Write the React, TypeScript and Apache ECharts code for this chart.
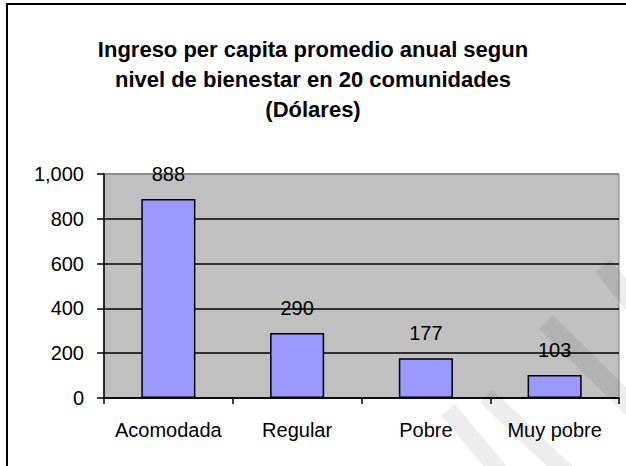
import React, { useEffect, useRef } from "react";
import * as echarts from "echarts";

const titleLines = [
  "Ingreso per capita promedio anual segun",
  "nivel de bienestar en 20 comunidades",
  "(Dólares)",
];
const categories = ["Acomodada", "Regular", "Pobre", "Muy pobre"];
const values = [888, 290, 177, 103];
const yMin = 0;
const yMax = 1000;
const yInterval = 200;

const FONT = "'Liberation Sans', Arial, sans-serif";

function formatThousands(v: number): string {
  return String(v).replace(/\B(?=(\d{3})+(?!\d))/g, ",");
}

export default function App() {
  const ref = useRef<HTMLDivElement>(null);
  useEffect(() => {
    if (!ref.current) return;
    const chart = echarts.init(ref.current, undefined, { renderer: "svg" });
    const stripe = (x1: number, y1: number, x2: number, y2: number, w: number) => {
      const dx = x2 - x1;
      const dy = y2 - y1;
      const len = Math.sqrt(dx * dx + dy * dy);
      const nx = (-dy / len) * (w / 2);
      const ny = (dx / len) * (w / 2);
      return {
        type: "polygon",
        silent: true,
        z: 100,
        shape: {
          points: [
            [x1 + nx, y1 + ny],
            [x2 + nx, y2 + ny],
            [x2 - nx, y2 - ny],
            [x1 - nx, y1 - ny],
          ],
        },
        style: { fill: "rgba(0,0,0,0.07)" },
      };
    };
    chart.setOption({
      animation: false,
      backgroundColor: "#ffffff",
      title: {
        text: titleLines.join("\n"),
        left: "center",
        top: 29,
        textStyle: {
          fontFamily: FONT,
          fontSize: 22,
          fontWeight: "bold",
          color: "#000",
          lineHeight: 30,
        },
      },
      grid: {
        left: 104,
        top: 174,
        right: 7,
        bottom: 68,
        show: true,
        backgroundColor: "#C0C0C0",
        borderColor: "#808080",
        borderWidth: 1,
      },
      xAxis: {
        type: "category",
        data: categories,
        axisLine: { show: true, lineStyle: { color: "#000", width: 1.5 } },
        axisTick: { show: true, length: 6, lineStyle: { color: "#000", width: 1.5 } },
        axisLabel: {
          interval: 0,
          hideOverlap: false,
          fontFamily: FONT,
          fontSize: 20,
          color: "#000",
          margin: 22,
        },
        splitLine: { show: false },
      },
      yAxis: {
        type: "value",
        min: yMin,
        max: yMax,
        interval: yInterval,
        axisLine: { show: true, lineStyle: { color: "#000", width: 1.5 } },
        axisTick: { show: true, length: 7, lineStyle: { color: "#000", width: 1.5 } },
        axisLabel: {
          fontFamily: FONT,
          fontSize: 20,
          color: "#000",
          margin: 20,
          formatter: (v: number) => formatThousands(v),
        },
        splitLine: {
          show: true,
          lineStyle: {
            color: ["#000", "#000", "#000", "#000", "#000", "#808080"],
            width: 1.5,
          },
        },
      },
      series: [
        {
          type: "bar",
          data: values,
          barWidth: "42%",
          itemStyle: {
            color: "#9999FF",
            borderColor: "#000",
            borderWidth: 1.5,
          },
          label: {
            show: true,
            position: "top",
            distance: 15,
            fontFamily: FONT,
            fontSize: 20,
            color: "#000",
          },
        },
      ],
      graphic: [
        {
          type: "rect",
          silent: true,
          z: 101,
          shape: { x: 7, y: 4, width: 640, height: 480 },
          style: { fill: "none", stroke: "#000", lineWidth: 2 },
        },
        stripe(448, 410, 500, 472, 18),
        stripe(486, 396, 566, 472, 18),
        stripe(546, 322, 645, 420, 20),
        stripe(603, 266, 645, 318, 20),
      ],
    });
    return () => chart.dispose();
  }, []);
  return (
    <div
      ref={ref}
      style={{ position: "fixed", left: 0, top: 0, width: 626, height: 466 }}
    />
  );
}
